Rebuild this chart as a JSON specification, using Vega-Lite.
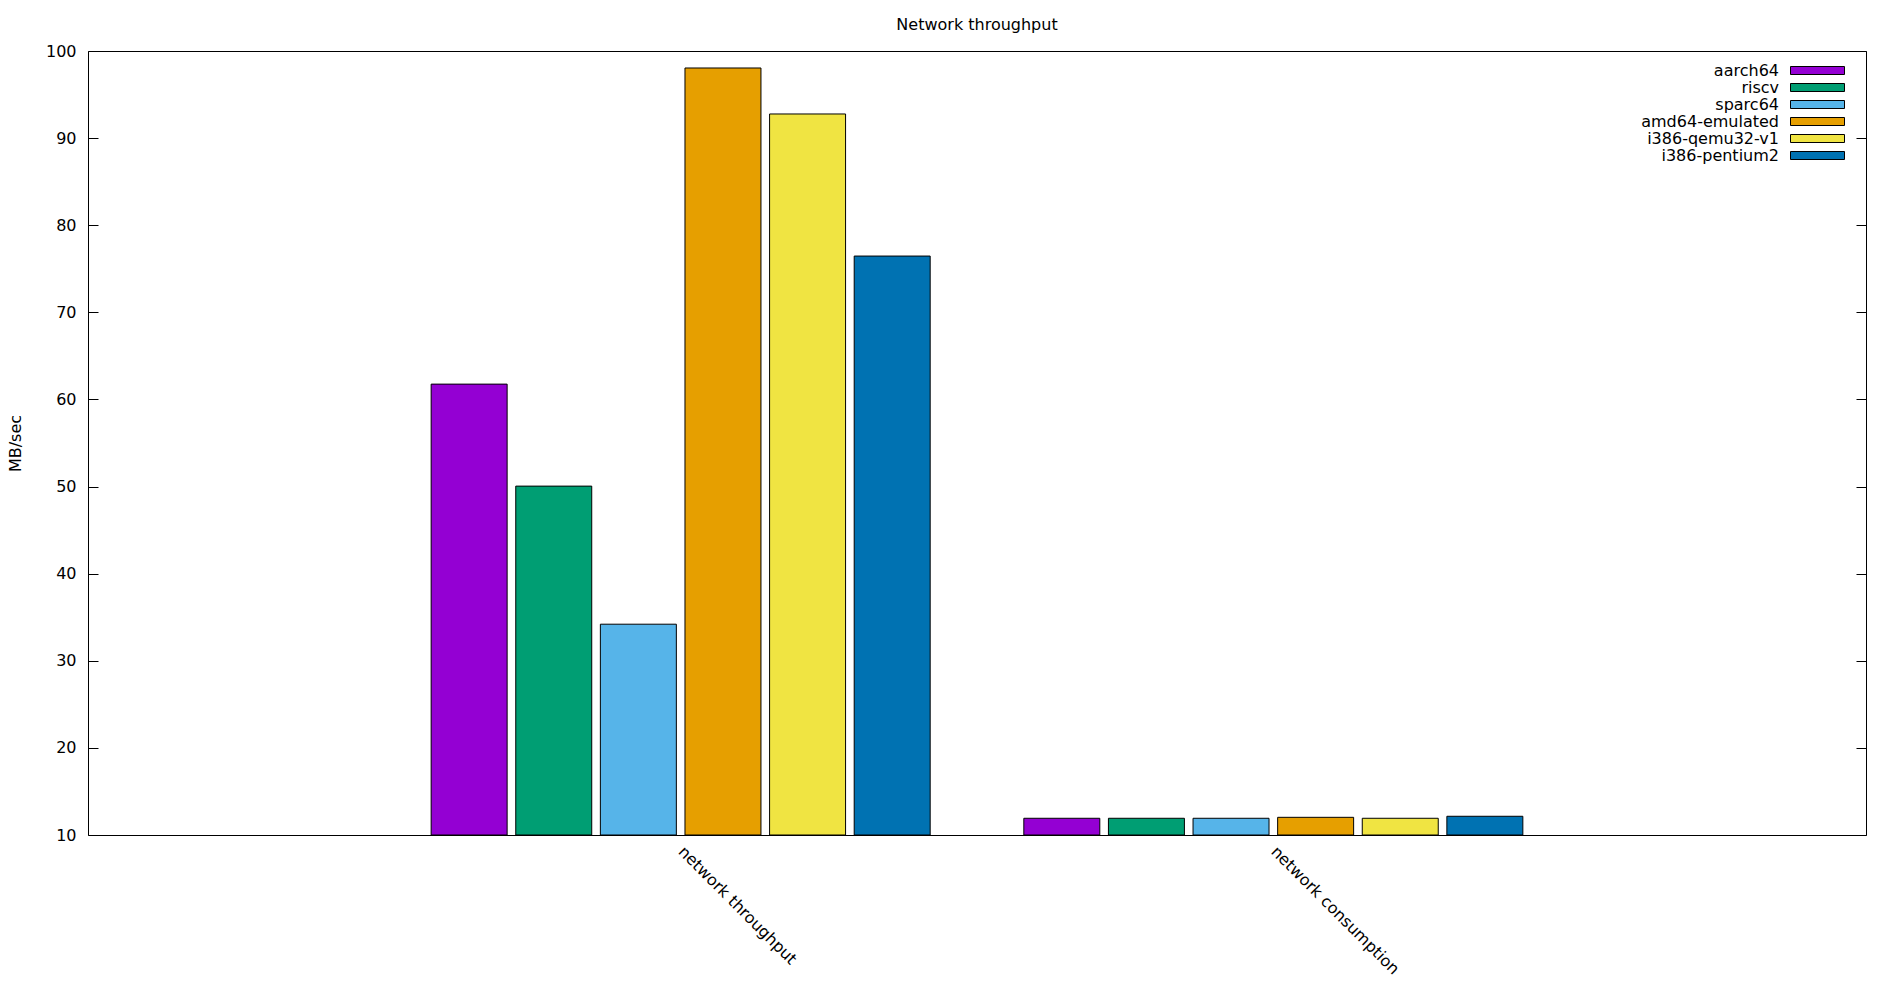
{
  "$schema": "https://vega.github.io/schema/vega-lite/v6.json",
  "width": 1778,
  "height": 784,
  "autosize": {"type": "none"},
  "padding": {"left": 88, "top": 51, "right": 34, "bottom": 165},
  "background": "white",
  "title": {"text": "Network throughput", "fontSize": 16, "fontWeight": "normal", "font": "DejaVu Sans", "color": "#000", "offset": 10, "anchor": "middle"},
  "config": {
    "view": {"stroke": "#000", "strokeWidth": 1},
    "font": "DejaVu Sans",
    "axis": {"labelFont": "DejaVu Sans", "labelFontSize": 16, "labelColor": "#000", "titleFont": "DejaVu Sans", "titleFontSize": 16, "titleFontWeight": "normal", "titleColor": "#000", "grid": false, "domain": false, "tickColor": "#000", "tickWidth": 1}
  },
  "data": {"values": [
    {"metric": "network throughput", "arch": "aarch64", "value": 61.76},
    {"metric": "network throughput", "arch": "riscv", "value": 50.05},
    {"metric": "network throughput", "arch": "sparc64", "value": 34.2},
    {"metric": "network throughput", "arch": "amd64-emulated", "value": 98.05},
    {"metric": "network throughput", "arch": "i386-qemu32-v1", "value": 92.77},
    {"metric": "network throughput", "arch": "i386-pentium2", "value": 76.46},
    {"metric": "network consumption", "arch": "aarch64", "value": 11.92},
    {"metric": "network consumption", "arch": "riscv", "value": 11.92},
    {"metric": "network consumption", "arch": "sparc64", "value": 11.92},
    {"metric": "network consumption", "arch": "amd64-emulated", "value": 12.03},
    {"metric": "network consumption", "arch": "i386-qemu32-v1", "value": 11.92},
    {"metric": "network consumption", "arch": "i386-pentium2", "value": 12.15}
  ]},
  "layer": [
    {
      "mark": {"type": "bar", "stroke": "#000", "strokeWidth": 1, "fillOpacity": 1, "opacity": 1},
      "encoding": {
        "x": {"field": "metric", "type": "nominal", "sort": ["network throughput", "network consumption"],
              "scale": {"paddingInner": 0.158, "paddingOuter": 0.579},
              "axis": {"title": null, "labelAngle": 45, "ticks": false, "labelPadding": 8, "labelOffset": 6, "labelAlign": "left", "labelBaseline": "top"}},
        "xOffset": {"field": "arch", "type": "nominal", "sort": ["aarch64", "riscv", "sparc64", "amd64-emulated", "i386-qemu32-v1", "i386-pentium2"],
                    "scale": {"paddingInner": 0.102, "paddingOuter": 0}},
        "y": {"field": "value", "type": "quantitative", "scale": {"domain": [10, 100], "zero": false, "nice": false},
              "axis": {"title": "MB/sec", "values": [10, 20, 30, 40, 50, 60, 70, 80, 90, 100], "tickSize": -10, "labelPadding": 22, "titlePadding": 22}},
        "y2": {"datum": 10},
        "color": {"field": "arch", "type": "nominal",
                  "scale": {"domain": ["aarch64", "riscv", "sparc64", "amd64-emulated", "i386-qemu32-v1", "i386-pentium2"],
                            "range": ["#9400d3", "#009e73", "#56b4e9", "#e69f00", "#f0e442", "#0072b2"]},
                  "legend": {"title": null, "orient": "none", "legendX": 1721, "legendY": 11, "padding": 0,
                             "symbolType": "M-3.375,-0.5H3.375V0.5H-3.375Z", "symbolSize": 256,
                             "labelAlign": "right", "labelOffset": -47, "labelFontSize": 16, "labelFont": "DejaVu Sans", "labelColor": "#000",
                             "symbolStrokeColor": "#000", "symbolStrokeWidth": 1, "symbolOpacity": 1, "rowPadding": 0, "labelLimit": 400}}
      }
    },
    {
      "mark": {"type": "point", "opacity": 0},
      "encoding": {
        "y": {"field": "value", "type": "quantitative", "scale": {"domain": [10, 100], "zero": false, "nice": false},
              "axis": {"orient": "right", "labels": false, "title": null, "tickSize": -10, "values": [10, 20, 30, 40, 50, 60, 70, 80, 90, 100]}}
      }
    }
  ],
  "resolve": {"axis": {"y": "independent"}}
}
